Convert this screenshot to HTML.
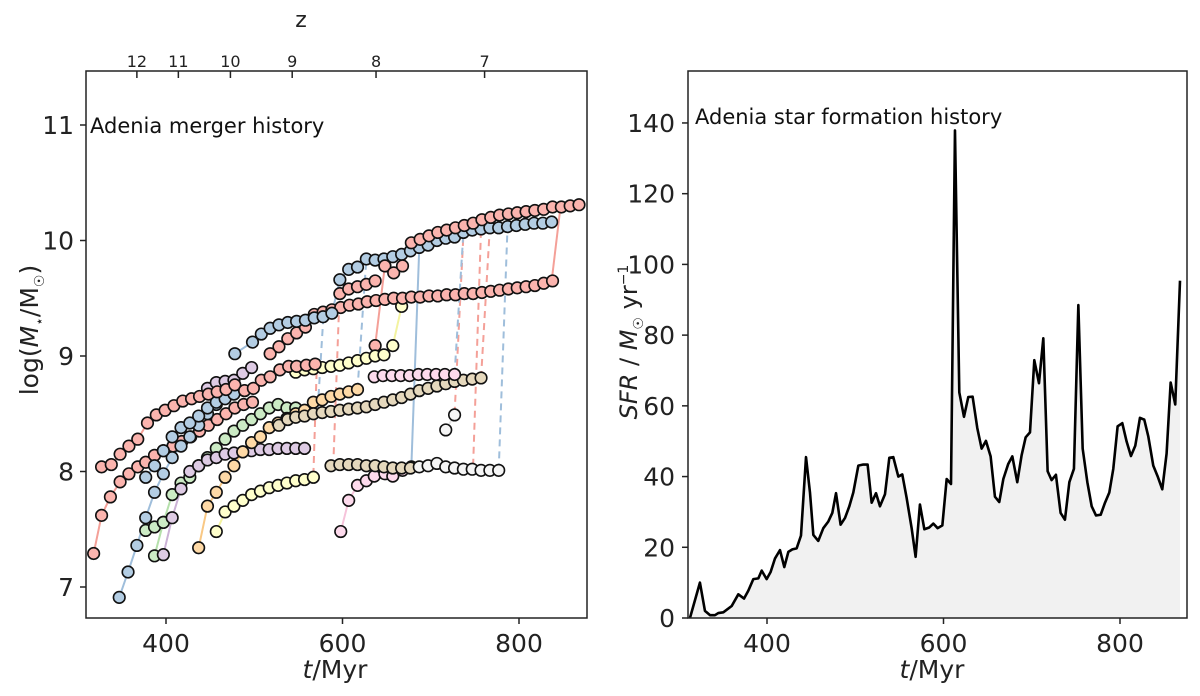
<!DOCTYPE html>
<html><head><meta charset="utf-8">
<style>
html,body{margin:0;padding:0;background:#fff;}
svg{display:block;font-family:"DejaVu Sans","Liberation Sans",sans-serif;}
</style></head>
<body>
<svg id="fig" width="1200" height="696" viewBox="0 0 1200 696" xmlns="http://www.w3.org/2000/svg">
<g id="left"></g>
<g id="right"></g>
</svg>
<script>
// ---------- merger history data (t [Myr], log M) ----------
const trackRedTop = [[648,9.78],[658,9.72],[668,9.78],[678,9.98],[688,10.01],[698,10.04],[708,10.07],[718,10.09],[728,10.11],[738,10.13],[748,10.15],[758,10.18],[768,10.2],[778,10.22],[788,10.23],[798,10.24],[808,10.25],[818,10.26],[828,10.27],[838,10.29],[848,10.29],[858,10.3],[868,10.31]];
const trackBlueTop = [[478,9.02],[498,9.12],[508,9.19],[518,9.24],[528,9.27],[538,9.29],[548,9.3],[558,9.31],[568,9.33],[578,9.34],[588,9.37],[597,9.66],[607,9.75],[617,9.77],[627,9.84],[637,9.83],[647,9.84],[657,9.86],[667,9.88],[677,9.91],[687,9.94],[697,9.96],[707,10.0],[717,10.02],[727,10.03],[737,10.07],[747,10.09],[757,10.1],[767,10.11],[777,10.11],[787,10.12],[797,10.13],[807,10.14],[817,10.15],[827,10.15],[837,10.16]];
const trackRedMid = [[518,9.02],[528,9.08],[538,9.15],[548,9.2],[558,9.25],[568,9.36],[578,9.38],[588,9.4],[598,9.42],[608,9.44],[618,9.45],[628,9.47],[638,9.48],[648,9.49],[658,9.5],[668,9.5],[678,9.51],[688,9.51],[698,9.52],[708,9.52],[718,9.53],[728,9.53],[738,9.54],[748,9.54],[758,9.55],[768,9.56],[778,9.57],[788,9.58],[798,9.59],[808,9.6],[818,9.61],[828,9.63],[838,9.65]];
const trackRedShort = [[597,9.54],[607,9.58],[617,9.6],[627,9.62],[637,9.65]];
const trackRedLeftUp = [[327,8.04],[338,8.06],[348,8.15],[358,8.22],[368,8.28],[379,8.42],[389,8.49],[399,8.53],[409,8.57],[419,8.61],[429,8.63],[438,8.65],[448,8.67],[458,8.69],[468,8.71],[478,8.75],[489,8.7],[499,8.72],[508,8.79],[518,8.82],[529,8.88],[539,8.91],[548,8.91],[559,8.92],[569,8.93]];
const trackRedLeftLow = [[318,7.29],[327,7.62],[337,7.78],[348,7.91],[358,7.98],[368,8.04],[377,8.08],[387,8.14],[397,8.18],[408,8.22],[418,8.26],[428,8.3],[438,8.35],[448,8.4],[458,8.45],[468,8.5],[478,8.55],[488,8.58],[498,8.6]];
const trackBlueLeft = [[347,6.91],[357,7.13],[367,7.36],[377,7.6],[387,7.82],[397,7.98],[407,8.12],[417,8.22],[427,8.3],[437,8.4],[447,8.5],[457,8.58],[467,8.65],[477,8.7]];
const trackBlueLeft2 = [[377,7.95],[387,8.05],[397,8.18],[407,8.3],[417,8.38],[427,8.42],[437,8.48],[447,8.55],[457,8.6],[467,8.63],[477,8.67]];
const trackGreen = [[387,7.27],[397,7.56],[407,7.8],[417,7.9],[427,7.95],[437,8.05],[447,8.12],[457,8.2],[467,8.28],[477,8.35],[487,8.4],[497,8.45],[507,8.5],[517,8.55],[527,8.58],[537,8.55],[547,8.55]];
const trackGreen2 = [[377,7.49],[387,7.52],[397,7.56]];
const trackPurple = [[397,7.28],[407,7.6],[417,7.85],[427,8.0],[437,8.05],[447,8.1],[457,8.12],[467,8.15],[477,8.16],[487,8.17],[497,8.18],[507,8.19],[517,8.19],[527,8.2],[537,8.2],[547,8.2],[557,8.2]];
const trackPurpleUp = [[447,8.72],[457,8.77],[467,8.78],[477,8.79],[487,8.85],[497,8.9]];
const trackOrange = [[437,7.34],[447,7.7],[457,7.82],[467,7.95],[477,8.05],[487,8.17],[497,8.25],[507,8.3],[517,8.38],[527,8.42],[537,8.46],[547,8.5],[557,8.53],[567,8.6],[577,8.62],[587,8.65],[597,8.67],[607,8.69],[617,8.71]];
const trackYellowLow = [[457,7.48],[467,7.65],[477,7.7],[487,7.75],[497,7.8],[507,7.83],[517,7.86],[527,7.88],[537,7.9],[547,7.92],[557,7.93],[567,7.95]];
const trackYellowUp = [[547,8.86],[557,8.88],[567,8.89],[577,8.9],[587,8.91],[597,8.92],[607,8.94],[617,8.96],[627,8.98],[637,9.0],[647,9.01]];
const trackYellowLate = [[657,9.09],[667,9.43]];
const trackTan = [[528,8.4],[538,8.45],[547,8.47],[557,8.48],[567,8.5],[577,8.51],[587,8.52],[597,8.53],[607,8.54],[617,8.55],[627,8.56],[637,8.58],[647,8.6],[657,8.62],[667,8.64],[677,8.67],[687,8.7],[697,8.72],[707,8.74],[717,8.76],[727,8.78],[737,8.79],[747,8.8],[757,8.81]];
const trackPinkUp = [[636,8.82],[646,8.83],[656,8.83],[666,8.83],[676,8.83],[686,8.84],[696,8.84],[706,8.84],[716,8.84],[727,8.84]];
const trackTanLow = [[587,8.05],[597,8.06],[607,8.06],[617,8.06],[627,8.05],[637,8.05],[647,8.04],[657,8.03],[667,8.03],[677,8.03]];
const trackWhite = [[687,8.04],[697,8.05],[707,8.07],[717,8.04],[727,8.03],[737,8.02],[747,8.02],[757,8.01],[767,8.01],[777,8.01]];
const trackWhite2 = [[717,8.36],[727,8.49]];
const trackPinkLow = [[598,7.48],[607,7.75],[617,7.88],[627,7.92],[636,7.96],[648,7.98],[657,7.96],[668,8.01],[678,8.04]];
const trackRedLone = [[637,9.09],[648,9.78]];
// connectors: [t0, m0, t1, m1]
const dashRed = [[567,7.97,571,8.95],[727,8.5,737,10.05],[748,8.05,757,10.1],[757,8.81,767,10.12],[590,8.15,596,9.4]];
const dashBlue = [[777,8.01,787,10.12],[727,8.84,737,10.07],[617,8.71,627,9.84],[572,8.55,578,9.3]];
const solidBlue = [[678,8.04,687,9.94]];
const solidRed = [[837,9.65,847,10.29]];

const zLabels = ['12','11','10','9','8','7'];
const zTimes = [367,414,473,543,638,761];
const leftYTicks = [7,8,9,10,11];
const xTicks = [400,600,800];

// ---------- SFH data ----------
const sfhT = [312.7,324,329.7,335.4,341,344.8,350.5,360,367.5,374,378.8,384.5,390.2,394,399.6,404.1,409,414.7,419.6,424.2,428.7,433.6,438.5,444.2,448.7,452.5,458.1,463.8,469.5,474,478.2,483.4,488.4,493.3,497.8,503.5,509.1,514,518.6,523.5,528,533.7,538.6,543.1,548.8,553.3,558.2,563.9,568.4,573.3,578.3,583.9,588.5,593.4,598.7,603.6,608.5,613,617.9,623.2,628.1,633,638.3,643.2,648.1,653.4,658.3,663.2,667.8,673.4,678,683.6,688.5,693.1,698,702.9,708.2,713.1,718,722.5,727.4,732.7,737.6,742.6,747.8,752.8,757.7,763,767.9,772.8,778.1,783,787.9,792.4,797.3,802.6,807.5,812.4,817.3,822.6,827.5,832.1,837.7,842.6,847.9,852.8,857.4,862.6,868];
const sfhV = [0,10,2,0.8,0.8,1.4,1.6,3.4,6.7,5.5,7.7,11,11.2,13.4,11,13,16.8,19.2,14.4,18.7,19.4,19.7,23.3,45.5,35.5,23.5,21.8,25.4,27.3,29.7,35.3,26.4,28.3,31.6,35.5,43.1,43.4,43.4,32.6,35.3,31.6,35,45.3,45.5,40,40.6,34,25.4,17.3,32.1,25.1,25.6,26.7,25.4,26.2,39.3,37.9,137.9,63.8,56.9,62.5,62.6,53.7,47.9,50.1,45.7,34.3,32.8,39.3,43.6,45.7,38.4,46,51.1,52.5,72.9,66.4,79.1,41.5,39,40.5,29.7,27.8,38.4,42.2,88.5,47.9,38.4,31.6,29,29.2,32.6,35.5,42.2,54.2,55.1,49.9,45.8,48.7,56.6,56.1,51.3,43.1,40.1,36.4,46.5,66.6,60.4,95.4];
const rightYTicks = [0,20,40,60,80,100,120,140];

// ---------- axes ----------
const xL = t => 166 + (t - 400) * 0.8825;
const yL = m => 125 + (11 - m) * 115.5;
const xR = t => 767 + (t - 400) * 0.8825;
const yR = s => 618 - s * 3.536;
const NS = 'http://www.w3.org/2000/svg';
function mk(parent, tag, attrs, txt) {
  const el = document.createElementNS(NS, tag);
  for (const k in attrs) el.setAttribute(k, attrs[k]);
  if (txt !== undefined) el.textContent = txt;
  parent.appendChild(el);
  return el;
}
const L = document.getElementById('left');
const R = document.getElementById('right');

// ----- left panel -----
const clipDefs = mk(L, 'defs', {});
const cp = mk(clipDefs, 'clipPath', {id: 'clipL'});
mk(cp, 'rect', {x: 86, y: 71, width: 501, height: 547});
const plotL = mk(L, 'g', {'clip-path': 'url(#clipL)'});



const C = {red:'#fbb4ae', blue:'#b3cde3', green:'#ccebc5', purple:'#decbe4', orange:'#fed9a6', yellow:'#ffffcc', tan:'#e5d8bd', pink:'#fddaec', white:'#f5f5f5'};
const tracks = [
  [trackRedLone,'red'],[trackRedLeftLow,'red'],[trackBlueLeft,'blue'],[trackGreen2,'green'],[trackGreen,'green'],[trackPurple,'purple'],
  [trackBlueLeft2,'blue'],[trackOrange,'orange'],[trackYellowLow,'yellow'],[trackPurpleUp,'purple'],
  [trackTan,'tan'],[trackYellowUp,'yellow'],[trackYellowLate,'yellow'],[trackPinkLow,'pink'],[trackTanLow,'tan'],[trackWhite,'white'],[trackWhite2,'white'],
  [trackPinkUp,'pink'],[trackRedLeftUp,'red'],[trackRedShort,'red'],[trackRedMid,'red'],[trackBlueTop,'blue'],[trackRedTop,'red']
];
const lineColors = {red:'#f4a098', blue:'#9fbedb', green:'#b5e0ab', purple:'#cbb2d6', orange:'#f9c884', yellow:'#f3f3a0', tan:'#d8c8a4', pink:'#f6c3da', white:'#e4e4e4'};
function conn(list, col, dash, name) {
  list.forEach(c => {
    const ln = mk(plotL, 'line', {x1: xL(c[0]), y1: yL(c[1]), x2: xL(c[2]), y2: yL(c[3]), stroke: col, 'stroke-width': 2, 'stroke-dasharray': dash ? '7,5' : 'none'});
    
    
  });
}
conn(dashRed, '#f4a098', true, 'merger-connector');
conn(dashBlue, '#9fbedb', true, 'merger-connector');
conn(solidBlue, '#9fbedb', false, 'merger-connector');
conn(solidRed, '#f4a098', false, 'merger-connector');
tracks.forEach(([tr, c]) => {
  const pl = mk(plotL, 'polyline', {points: tr.map(p => xL(p[0]) + ',' + yL(p[1])).join(' '), fill: 'none', stroke: lineColors[c], 'stroke-width': 2});
  
  
});
tracks.forEach(([tr, c]) => {
  tr.forEach(p => {
    const ci = mk(plotL, 'circle', {cx: xL(p[0]), cy: yL(p[1]), r: 5.8, fill: C[c], stroke: '#111', 'stroke-width': 1.6});
    
    
  });
});
function frame(g, x, y, w, h, name) {
  const r = mk(g, 'rect', {x: x, y: y, width: w, height: h, fill: 'none', stroke: '#222', 'stroke-width': 1.5});
  
  
}
frame(L, 86, 71, 501, 547, 'merger-axes-frame');
leftYTicks.forEach(v => {
  const tk = mk(L, 'line', {x1: 80, x2: 86, y1: yL(v), y2: yL(v), stroke: '#222', 'stroke-width': 1.5});
  
  
  const tx = mk(L, 'text', {x: 74, y: yL(v) + 9, 'text-anchor': 'end', 'font-size': 25, fill: '#222'}, String(v));
  
  
});
xTicks.forEach(v => {
  const tk = mk(L, 'line', {x1: xL(v), x2: xL(v), y1: 618, y2: 624, stroke: '#222', 'stroke-width': 1.5});
  
  
  const tx = mk(L, 'text', {x: xL(v), y: 652, 'text-anchor': 'middle', 'font-size': 25, fill: '#222'}, String(v));
  
  
});
zTimes.forEach((t, i) => {
  const tk = mk(L, 'line', {x1: xL(t), x2: xL(t), y1: 71, y2: 78, stroke: '#222', 'stroke-width': 1.5});
  
  
  const tx = mk(L, 'text', {x: xL(t), y: 67, 'text-anchor': 'middle', 'font-size': 16, fill: '#222'}, zLabels[i]);
  
  
});
</script>
<script>
(function(){
const L=document.getElementById('left');
const R=document.getElementById('right');
L.insertAdjacentHTML('beforeend',
 '<text x="301" y="27" text-anchor="middle" font-size="22" fill="#222">z</text>'+
 '<text x="90" y="133" font-size="21" fill="#111">Adenia merger history</text>'+
 '<text x="335" y="678" text-anchor="middle" font-size="25" fill="#222"><tspan font-style="italic">t</tspan>/Myr</text>'+
 '<text transform="translate(38,330) rotate(-90)" text-anchor="middle" font-size="25" fill="#222">log(<tspan font-style="italic">M</tspan><tspan font-size="14" dy="6">⋆</tspan><tspan dy="-6">/M</tspan><tspan font-size="14" dy="6">☉</tspan><tspan dy="-6">)</tspan></text>');
R.insertAdjacentHTML('beforeend',
 '<text x="695" y="124" font-size="21" fill="#111">Adenia star formation history</text>'+
 '<text x="932" y="678" text-anchor="middle" font-size="25" fill="#222"><tspan font-style="italic">t</tspan>/Myr</text>'+
 '<text transform="translate(637,342) rotate(-90)" text-anchor="middle" font-size="24" fill="#222"><tspan font-style="italic">SFR</tspan> / <tspan font-style="italic">M</tspan><tspan font-size="14" dy="6">☉</tspan><tspan dy="-6"> yr</tspan><tspan font-size="14" dy="-9">−1</tspan></text>');
})();
</script>
<script>
(function(){
const fillPts = [xR(sfhT[0]) + ',' + yR(0)].concat(sfhT.map((t, i) => xR(t) + ',' + yR(sfhV[i]))).concat([xR(sfhT[sfhT.length - 1]) + ',' + yR(0)]).join(' ');
const area = mk(R, 'polygon', {points: fillPts, fill: '#f1f1f1', stroke: 'none'});


const line = mk(R, 'polyline', {points: sfhT.map((t, i) => xR(t) + ',' + yR(sfhV[i])).join(' '), fill: 'none', stroke: '#000', 'stroke-width': 2.6, 'stroke-linejoin': 'round'});


frame(R, 688, 71, 499, 547, 'sfh-axes-frame');
rightYTicks.forEach(v => {
  const tk = mk(R, 'line', {x1: 682, x2: 688, y1: yR(v), y2: yR(v), stroke: '#222', 'stroke-width': 1.5});
  
  
  const tx = mk(R, 'text', {x: 675, y: yR(v) + 9, 'text-anchor': 'end', 'font-size': 25, fill: '#222'}, String(v));
  
  
});
xTicks.forEach(v => {
  const tk = mk(R, 'line', {x1: xR(v), x2: xR(v), y1: 618, y2: 624, stroke: '#222', 'stroke-width': 1.5});
  
  
  const tx = mk(R, 'text', {x: xR(v), y: 652, 'text-anchor': 'middle', 'font-size': 25, fill: '#222'}, String(v));
  
  
});
})();
</script>
</body></html>
